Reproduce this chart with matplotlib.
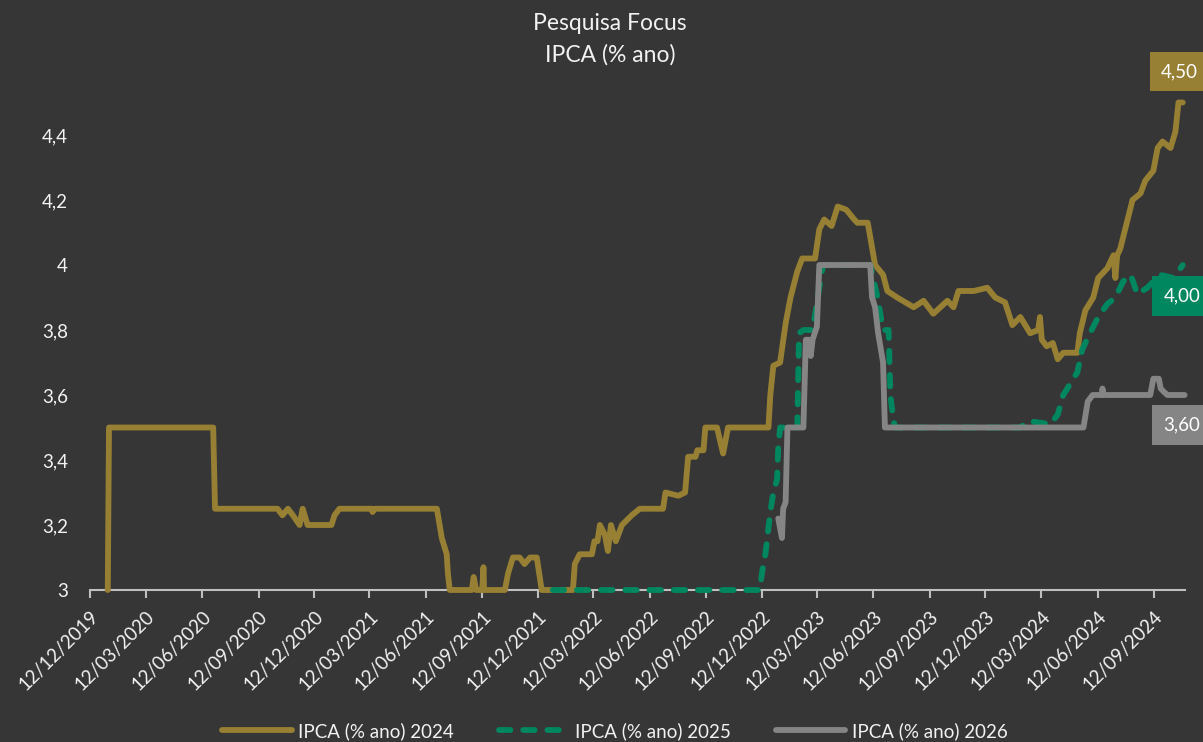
import matplotlib
matplotlib.use("Agg")
import matplotlib.pyplot as plt
import pandas as pd
from matplotlib.lines import Line2D

# ---------------- data ----------------
dates_2024 = ["2020-01-10", "2020-01-12", "2020-06-30", "2020-07-03", "2020-10-13", "2020-10-21",
              "2020-10-30", "2020-11-07", "2020-11-18", "2020-11-23", "2020-12-01", "2021-01-09",
              "2021-01-14", "2021-01-22", "2021-03-16", "2021-03-17", "2021-03-21", "2021-06-30",
              "2021-07-08", "2021-07-16", "2021-07-18", "2021-07-21", "2021-08-26", "2021-08-29",
              "2021-09-02", "2021-09-12", "2021-09-14", "2021-09-15", "2021-10-19", "2021-10-24",
              "2021-11-01", "2021-11-12", "2021-11-20", "2021-11-29", "2021-12-10", "2021-12-18",
              "2022-02-07", "2022-02-10", "2022-02-18", "2022-03-10", "2022-03-14", "2022-03-19",
              "2022-03-23", "2022-03-31", "2022-04-05", "2022-04-10", "2022-04-18", "2022-04-28",
              "2022-05-14", "2022-05-27", "2022-07-04", "2022-07-08", "2022-07-29", "2022-08-09",
              "2022-08-14", "2022-08-26", "2022-08-29", "2022-09-08", "2022-09-11", "2022-09-30",
              "2022-10-10", "2022-10-18", "2022-12-23", "2022-12-26", "2022-12-31", "2023-01-11",
              "2023-01-20", "2023-01-28", "2023-02-08", "2023-02-16", "2023-03-09", "2023-03-16",
              "2023-03-24", "2023-04-05", "2023-04-15", "2023-04-29", "2023-05-12", "2023-05-17",
              "2023-06-03", "2023-06-15", "2023-06-28", "2023-07-05", "2023-07-21", "2023-08-17",
              "2023-09-02", "2023-09-18", "2023-10-11", "2023-10-21", "2023-10-29", "2023-11-23",
              "2023-12-15", "2023-12-28", "2024-01-13", "2024-01-25", "2024-02-07", "2024-02-23",
              "2024-03-07", "2024-03-10", "2024-03-13", "2024-03-21", "2024-03-31", "2024-04-08",
              "2024-04-17", "2024-05-10", "2024-05-14", "2024-05-23", "2024-06-05", "2024-06-13",
              "2024-06-28", "2024-07-08", "2024-07-11", "2024-07-14", "2024-07-19", "2024-07-27",
              "2024-08-08", "2024-08-21", "2024-08-29", "2024-09-11", "2024-09-18", "2024-09-26",
              "2024-10-09", "2024-10-17", "2024-10-22", "2024-10-29"]
vals_2024 = [3.00, 3.50, 3.50, 3.25, 3.25, 3.23,
             3.25, 3.23, 3.20, 3.25, 3.20, 3.20,
             3.23, 3.25, 3.25, 3.24, 3.25, 3.25,
             3.16, 3.11, 3.05, 3.00, 3.00, 3.04,
             3.00, 3.00, 3.07, 3.00, 3.00, 3.05,
             3.10, 3.10, 3.08, 3.10, 3.10, 3.00,
             3.00, 3.08, 3.11, 3.11, 3.15, 3.15,
             3.20, 3.17, 3.12, 3.20, 3.15, 3.20,
             3.23, 3.25, 3.25, 3.30, 3.29, 3.30,
             3.41, 3.41, 3.43, 3.43, 3.50, 3.50,
             3.42, 3.50, 3.50, 3.60, 3.69, 3.70,
             3.82, 3.90, 3.98, 4.02, 4.02, 4.11,
             4.14, 4.12, 4.18, 4.17, 4.14, 4.13,
             4.13, 4.00, 3.97, 3.92, 3.90, 3.87,
             3.89, 3.85, 3.89, 3.87, 3.92, 3.92,
             3.93, 3.90, 3.885, 3.815, 3.84, 3.79,
             3.80, 3.84, 3.77, 3.75, 3.76, 3.71,
             3.73, 3.73, 3.79, 3.86, 3.90, 3.96,
             3.99, 4.03, 3.96, 4.03, 4.05, 4.11,
             4.20, 4.22, 4.26, 4.29, 4.36, 4.38,
             4.36, 4.41, 4.50, 4.50]

dates_2025 = ["2022-01-05", "2022-12-09", "2022-12-13", "2022-12-18", "2022-12-26", "2022-12-31",
              "2023-01-06", "2023-01-08", "2023-01-11", "2023-02-08", "2023-02-11", "2023-02-18",
              "2023-03-05", "2023-03-21", "2023-03-24", "2023-06-07", "2023-06-19", "2023-06-28",
              "2023-07-07", "2023-07-10", "2023-07-15", "2023-07-18", "2024-02-07", "2024-02-20",
              "2024-03-27", "2024-04-08", "2024-04-17", "2024-05-10", "2024-05-18", "2024-05-28",
              "2024-06-13", "2024-06-28", "2024-07-11", "2024-07-24", "2024-08-05", "2024-08-16",
              "2024-09-01", "2024-09-22", "2024-10-14", "2024-10-29"]
vals_2025 = [3.00, 3.00, 3.06, 3.11, 3.24, 3.30,
             3.34, 3.44, 3.50, 3.50, 3.79, 3.80,
             3.80, 3.99, 4.00, 4.00, 3.90, 3.80,
             3.80, 3.60, 3.52, 3.50, 3.50, 3.52,
             3.51, 3.54, 3.60, 3.67, 3.74, 3.78,
             3.84, 3.88, 3.90, 3.95, 3.97, 3.91,
             3.93, 3.97, 3.96, 4.00]

dates_2026 = ["2023-01-08", "2023-01-14", "2023-01-16", "2023-01-20", "2023-01-23", "2023-02-18",
              "2023-02-22", "2023-02-27", "2023-03-02", "2023-03-05", "2023-03-12", "2023-03-16",
              "2023-06-07", "2023-06-10", "2023-06-15", "2023-06-20", "2023-06-28", "2023-07-01",
              "2024-05-20", "2024-05-27", "2024-06-04", "2024-06-19", "2024-06-20", "2024-06-22",
              "2024-09-06", "2024-09-11", "2024-09-20", "2024-09-23", "2024-09-28", "2024-10-04",
              "2024-11-01"]
vals_2026 = [3.22, 3.16, 3.25, 3.27, 3.50, 3.50,
             3.77, 3.77, 3.72, 3.77, 3.81, 4.00,
             4.00, 3.90, 3.87, 3.79, 3.70, 3.50,
             3.50, 3.58, 3.60, 3.60, 3.62, 3.60,
             3.60, 3.65, 3.65, 3.62, 3.61, 3.60,
             3.60]

series_names = ["IPCA (% ano) 2024", "IPCA (% ano) 2025", "IPCA (% ano) 2026"]
end_labels = ["4,50", "4,00", "3,60"]
y_ticks = [3.0, 3.2, 3.4, 3.6, 3.8, 4.0, 4.2, 4.4]
x_start, x_end = "2019-12-12", "2024-11-01"
title_lines = ["Pesquisa Focus", "IPCA (% ano)"]

# ---------------- style ----------------
BG = "#363636"
GOLD = "#977F33"
GREEN = "#00875F"
GRAY = "#858585"
TXT = "#F2F2F2"
AXC = "#BFBFBF"
FONT = ["Lato", "DejaVu Sans"]
plt.rcParams["font.family"] = FONT

W, H = 1203, 742
fig = plt.figure(figsize=(W / 100, H / 100), dpi=100, facecolor=BG)
ax = fig.add_axes([90 / W, 1 - 590 / H, (1184.6 - 90) / W, (590 - 102.5) / H])
ax.set_facecolor(BG)

d24 = pd.to_datetime(dates_2024)
d25 = pd.to_datetime(dates_2025)
d26 = pd.to_datetime(dates_2026)

lw = 4.2
DASH = (1.95, 2.2)
l1, = ax.plot(d24, vals_2024, color=GOLD, lw=lw, solid_joinstyle="round",
              solid_capstyle="round", clip_on=False, zorder=3)
l2, = ax.plot(d25, vals_2025, color=GREEN, lw=lw, dash_capstyle="round",
              dash_joinstyle="round", clip_on=False, zorder=4)
l2.set_dashes(DASH)
l3, = ax.plot(d26, vals_2026, color=GRAY, lw=lw, solid_joinstyle="round",
              solid_capstyle="round", clip_on=False, zorder=5)

ax.set_xlim(pd.Timestamp(x_start), pd.Timestamp(x_end))
ax.set_ylim(3.0, 4.5)

xt = pd.date_range("2019-12-01", "2024-09-30", freq="3MS") + pd.Timedelta(days=11)
ax.set_xticks(xt)
ax.set_xticklabels([d.strftime("%d/%m/%Y") for d in xt], rotation=45, ha="right",
                   rotation_mode="anchor", fontsize=13.5, color=TXT)
ax.set_yticks(y_ticks)
ax.set_yticklabels([f"{v:g}".replace(".", ",") for v in y_ticks], fontsize=13.5, color=TXT)

for s in ["top", "right", "left"]:
    ax.spines[s].set_visible(False)
ax.spines["bottom"].set_color(AXC)
ax.spines["bottom"].set_linewidth(1.5)
ax.spines["bottom"].set_zorder(2)
ax.tick_params(axis="x", colors=AXC, length=6, width=1.5, pad=7, labelcolor=TXT)
ax.tick_params(axis="y", length=0, pad=16, labelcolor=TXT)

# end value labels
for line_d, line_v, txt, col, off in [(d24, vals_2024, end_labels[0], GOLD, (-3, 31)),
                                      (d25, vals_2025, end_labels[1], GREEN, (-1, -31)),
                                      (d26, vals_2026, end_labels[2], GRAY, (-3, -30))]:
    ax.annotate(txt, xy=(line_d[-1], line_v[-1]), xytext=off, textcoords="offset pixels",
                ha="center", va="center", fontsize=13.5, color="white",
                bbox=dict(boxstyle="square,pad=0.6", fc=col, ec="none"),
                annotation_clip=False, zorder=10)

# title
fig.text(610 / W, 1 - 23 / H, title_lines[0], ha="center", va="center", fontsize=16.5, color=TXT)
fig.text(610 / W, 1 - 55 / H, title_lines[1], ha="center", va="center", fontsize=16.5, color=TXT)

# legend
handles = [Line2D([], [], color=GOLD, lw=lw, solid_capstyle="round"),
           Line2D([], [], color=GREEN, lw=lw, dashes=DASH, dash_capstyle="round"),
           Line2D([], [], color=GRAY, lw=lw, solid_capstyle="round")]
fig.legend(handles, series_names, loc="center", bbox_to_anchor=(615 / W, 1 - 731 / H),
           ncol=3, frameon=False, fontsize=13.5, labelcolor=TXT, handlelength=3.7,
           handletextpad=0.35, columnspacing=2.4)

fig.savefig("out.png", dpi=100, facecolor=BG)
